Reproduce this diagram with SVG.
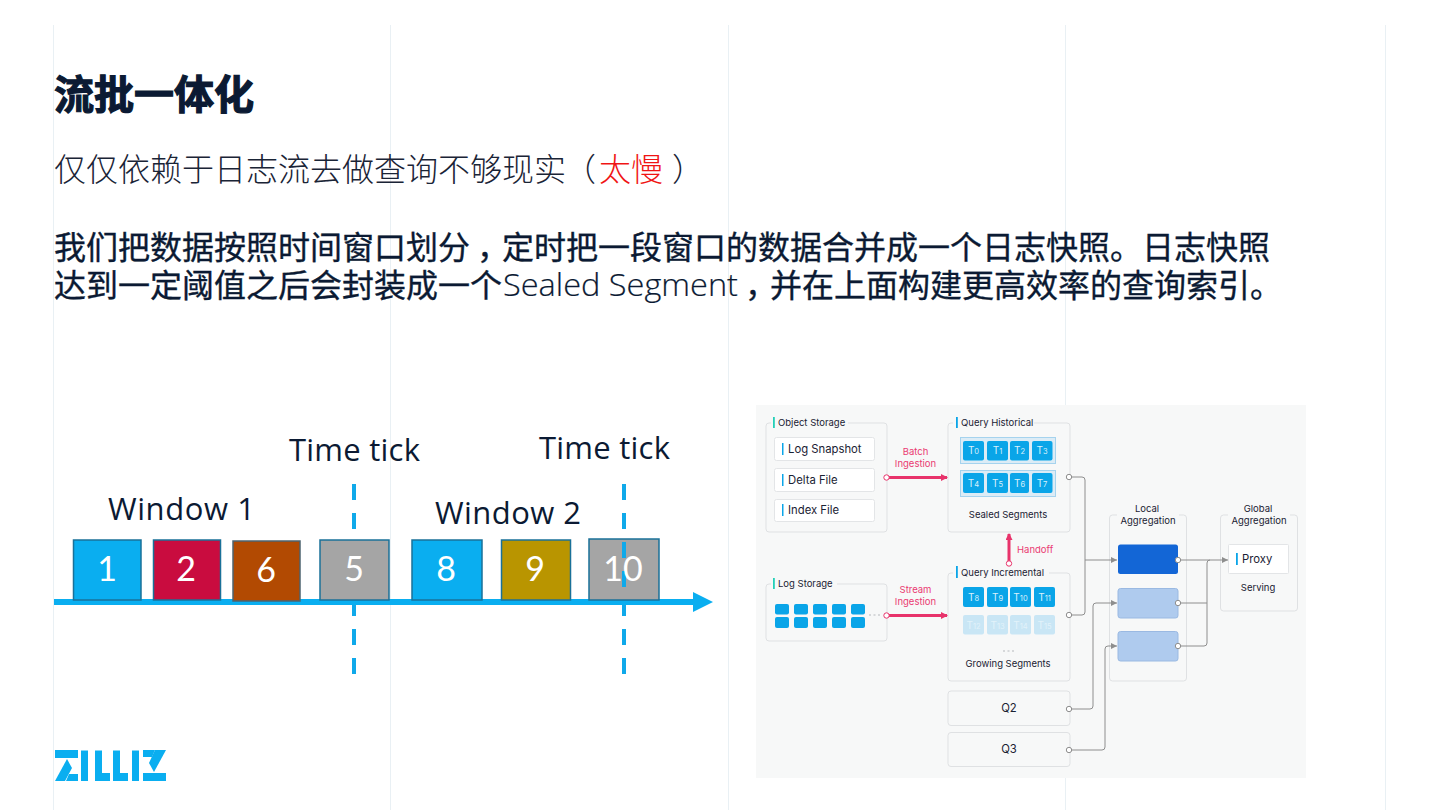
<svg xmlns="http://www.w3.org/2000/svg" width="1440" height="810" viewBox="0 0 1440 810">
<style>
text{font-family:"Noto Sans CJK SC","Noto Sans",sans-serif}
.grid{stroke:#e9f0f4;stroke-width:1}
.h1{font-size:40px;font-weight:700;fill:#0b1a33;stroke:#0b1a33;stroke-width:1.200px}
.sub{font-size:32px;font-weight:300;fill:#1a2436}
.body{font-size:32px;font-weight:400;fill:#0b1a33;stroke:#0b1a33;stroke-width:.35px}
.lat{font-family:"Open Sans","Noto Sans",sans-serif;font-weight:300;font-size:32px;fill:#0b1a33;stroke:#0b1a33;stroke-width:.2px}
.lab{font-family:"Open Sans","Noto Sans",sans-serif;font-size:31px;fill:#0b1a33}
.num{font-family:"Lato","Open Sans",sans-serif;font-size:34px;fill:#fff;text-anchor:middle}
.cell{stroke:#1a7199;stroke-width:1.5}
.dash{stroke:#0fa9ea;stroke-width:4}
.box{fill:#f7f8f8;stroke:#dfe1e3;stroke-width:1}
.wbox{fill:#fff;stroke:#e3e5e7;stroke-width:1}
.bl{fill:#0aa5e8}
.grn{fill:#25d0b8}
.t{font-family:"Inter","Noto Sans",sans-serif;font-size:9.5px;fill:#1a2233}
.tm{text-anchor:middle}
.t2{font-family:"Inter","Noto Sans",sans-serif;font-size:11.3px;fill:#1a2233}
.red{font-family:"Inter","Noto Sans",sans-serif;font-size:9.5px;fill:#ea3a72;text-anchor:middle}
.tile{fill:#0aa5e8}
.fade{fill:#c9e6f5}
.tt{font-family:"Inter","Noto Sans",sans-serif;font-size:10px;fill:#d9f1fc;text-anchor:middle}
.tf{font-family:"Inter","Noto Sans",sans-serif;font-size:10px;fill:#e2f2fa;text-anchor:middle}
.sb{font-size:7.500px}
.strip{fill:#dcecf6;stroke:#a5d3ee;stroke-width:1}
.pk{stroke:#e8336b;stroke-width:3;fill:none}
.gr{stroke:#8e8e8e;stroke-width:1;fill:none}
.dot{fill:#fff;stroke:#8e8e8e;stroke-width:1}
.dotr{fill:#fff;stroke:#e8336b;stroke-width:1}
.lt{fill:#afcbee;stroke:#9ab9e2;stroke-width:1}
</style>
<defs>
<marker id="pa" markerWidth="7" markerHeight="7" refX="6" refY="3.500" orient="auto" markerUnits="userSpaceOnUse"><path d="M0 0L7 3.500L0 7Z" fill="#e8336b"/></marker>
<marker id="ga" markerWidth="6" markerHeight="6" refX="6" refY="3" orient="auto" markerUnits="userSpaceOnUse"><path d="M0 0L6 3L0 6Z" fill="#8e8e8e"/></marker>
</defs>
<rect width="1440" height="810" fill="#fff"/>
<g id="gridlines">
<path class="grid" d="M53.5 25V810M390.5 25V810M728.5 25V810M1065.5 25V810M1385.5 25V810"/>
</g>
<g id="heading">
<text class="h1" x="54" y="109">流批一体化</text>
<text class="sub" y="181"><tspan x="54">仅仅依赖于日志流去做查询不够现实</tspan><tspan x="564">（</tspan><tspan x="599" fill="#f01414">太慢</tspan><tspan x="672">）</tspan></text>
<text class="body" y="259"><tspan x="54">我们把数据按照时间窗口划分</tspan><tspan x="477">，</tspan><tspan x="502">定时把一段窗口的数据合并成一个日志快照。日志快照</tspan></text>
<text class="body" x="54" y="297">达到一定阈值之后会封装成一个</text>
<text class="lat" x="503" y="296" textLength="235" lengthAdjust="spacingAndGlyphs">Sealed Segment</text>
<text class="body" y="297"><tspan x="745">，</tspan><tspan x="770">并在上面构建更高效率的查询索引。</tspan></text>
</g>
<g id="timeline">
<text class="lab" x="289" y="461" textLength="131">Time tick</text>
<text class="lab" x="539" y="459" textLength="131">Time tick</text>
<text class="lab" x="108" y="520" textLength="147">Window 1</text>
<text class="lab" x="435" y="524" textLength="146">Window 2</text>
<path class="dash" d="M354 484V500M354 513V529M354 605V616M354 629V645M354 658V674"/>
<path class="dash" d="M624 484V500M624 513V529M624 605V616M624 629V645M624 658V674"/>
<path d="M54 599H693V592L713 602L693 612V605H54Z" fill="#0aaef0"/>
<g id="cell-1"><rect class="cell" x="73.5" y="540" width="67.500" height="60" fill="#0aaef0"/><text class="num" x="107" y="581">1</text></g>
<g id="cell-2"><rect class="cell" x="153.500" y="540" width="67" height="60" fill="#c90c3f"/><text class="num" x="186" y="581">2</text></g>
<g id="cell-6"><rect x="233" y="541" width="67" height="60" fill="#b24a02" stroke="#4d6470" stroke-width="1.500"/><text class="num" x="266" y="582">6</text></g>
<g id="cell-5"><rect class="cell" x="320" y="540" width="69" height="60" fill="#a5a5a5"/><text class="num" x="354" y="581">5</text></g>
<g id="cell-8"><rect class="cell" x="412" y="540" width="70" height="60" fill="#0aaef0"/><text class="num" x="446" y="581">8</text></g>
<g id="cell-9"><rect class="cell" x="501.500" y="540" width="69" height="60" fill="#b99500"/><text class="num" x="535" y="581">9</text></g>
<g id="cell-10"><rect class="cell" x="589" y="539" width="70" height="61" fill="#a5a5a5"/><path class="dash" d="M624 542V558M624 571V587"/><text class="num" x="623" y="581">10</text></g>
</g>
<g id="logo" fill="#0aaef0">
<path d="M55 750H78V758H55Z"/>
<path d="M67 759L72 768L65 781H55Z"/>
<path d="M69 774H78V781H66Z"/>
<path d="M81 750.500H88V781H81Z"/>
<path d="M95 750.500H102V773H110V781H95Z"/>
<path d="M113 750.500H120V773H128V781H113Z"/>
<path d="M132 750.500H139V781H132Z"/>
<path d="M143 773H166V781H143Z"/>
<path d="M155 750H166L154 772L149 763Z"/>
<path d="M143 750H155L152 757H143Z"/>
</g>
<g id="panel">
<rect x="756" y="405" width="550" height="373" fill="#f7f8f8"/>
</g>
<g id="object-storage">
<rect class="box" x="766" y="423" width="121" height="109" rx="3"/>
<rect x="771" y="418" width="77" height="10" fill="#f7f8f8"/>
<rect class="grn" x="773" y="417" width="1.800" height="11"/>
<text class="t" x="778" y="426">Object Storage</text>
<rect class="wbox" x="774.500" y="437.500" width="100" height="23" rx="2"/><rect class="bl" x="782" y="443" width="1.500" height="12"/><text class="t2" x="788" y="453">Log Snapshot</text>
<rect class="wbox" x="774.500" y="468.500" width="100" height="23" rx="2"/><rect class="bl" x="782" y="474" width="1.500" height="12"/><text class="t2" x="788" y="484">Delta File</text>
<rect class="wbox" x="774.500" y="499.500" width="100" height="22" rx="2"/><rect class="bl" x="782" y="504" width="1.500" height="12"/><text class="t2" x="788" y="514">Index File</text>
</g>
<g id="log-storage">
<rect class="box" x="766" y="584" width="121" height="57" rx="3"/>
<rect x="771" y="579" width="66" height="10" fill="#f7f8f8"/>
<rect class="grn" x="773" y="578" width="1.800" height="11"/>
<text class="t" x="778" y="587">Log Storage</text>
<g class="tile">
<rect x="775" y="604" width="14" height="10.500" rx="2"/><rect x="794" y="604" width="14" height="10.500" rx="2"/><rect x="813" y="604" width="14" height="10.500" rx="2"/><rect x="832" y="604" width="14" height="10.500" rx="2"/><rect x="851" y="604" width="14" height="10.500" rx="2"/>
<rect x="775" y="617" width="14" height="11" rx="2"/><rect x="794" y="617" width="14" height="11" rx="2"/><rect x="813" y="617" width="14" height="11" rx="2"/><rect x="832" y="617" width="14" height="11" rx="2"/><rect x="851" y="617" width="14" height="11" rx="2"/>
</g>
<path d="M869 615H880" stroke="#b5b8bc" stroke-width="1" stroke-dasharray="2 2.500" fill="none"/>
</g>
<g id="query-historical">
<rect class="box" x="948" y="423" width="122" height="109" rx="3"/>
<rect x="953" y="418" width="81" height="10" fill="#f7f8f8"/>
<rect class="bl" x="956" y="417" width="1.800" height="11"/>
<text class="t" x="961" y="426">Query Historical</text>
<rect class="strip" x="960.500" y="437.500" width="95" height="26"/>
<rect class="strip" x="960.500" y="470.500" width="95" height="26"/>
<rect class="tile" x="963" y="441" width="21" height="19.500" rx="2"/><text class="tt" x="973.500" y="454">T<tspan class="sb">0</tspan></text>
<rect class="tile" x="987" y="441" width="21" height="19.500" rx="2"/><text class="tt" x="997.500" y="454">T<tspan class="sb">1</tspan></text>
<rect class="tile" x="1010" y="441" width="19" height="19.500" rx="2"/><text class="tt" x="1019.500" y="454">T<tspan class="sb">2</tspan></text>
<rect class="tile" x="1032" y="441" width="20.500" height="19.500" rx="2"/><text class="tt" x="1042" y="454">T<tspan class="sb">3</tspan></text>
<rect class="tile" x="963" y="473" width="21" height="20" rx="2"/><text class="tt" x="973.500" y="487">T<tspan class="sb">4</tspan></text>
<rect class="tile" x="987" y="473" width="21" height="20" rx="2"/><text class="tt" x="997.500" y="487">T<tspan class="sb">5</tspan></text>
<rect class="tile" x="1010" y="473" width="19" height="20" rx="2"/><text class="tt" x="1019.500" y="487">T<tspan class="sb">6</tspan></text>
<rect class="tile" x="1032" y="473" width="20.500" height="20" rx="2"/><text class="tt" x="1042" y="487">T<tspan class="sb">7</tspan></text>
<text class="t tm" x="1008" y="518">Sealed Segments</text>
</g>
<g id="query-incremental">
<rect class="box" x="948" y="573" width="122" height="108" rx="3"/>
<rect x="953" y="567" width="96" height="10" fill="#f7f8f8"/>
<rect class="bl" x="956" y="566" width="1.800" height="12"/>
<text class="t" x="961" y="576">Query Incremental</text>
<rect class="tile" x="963" y="587" width="21" height="20" rx="2"/><text class="tt" x="973.500" y="601">T<tspan class="sb">8</tspan></text>
<rect class="tile" x="987" y="587" width="21" height="20" rx="2"/><text class="tt" x="997.500" y="601">T<tspan class="sb">9</tspan></text>
<rect class="tile" x="1010" y="587" width="21" height="20" rx="2"/><text class="tt" x="1020.500" y="601">T<tspan class="sb">10</tspan></text>
<rect class="tile" x="1034" y="587" width="21" height="20" rx="2"/><text class="tt" x="1044.500" y="601">T<tspan class="sb">11</tspan></text>
<rect class="fade" x="963" y="615" width="21" height="19.500" rx="2"/><text class="tf" x="973.500" y="629">T<tspan class="sb">12</tspan></text>
<rect class="fade" x="987" y="615" width="21" height="19.500" rx="2"/><text class="tf" x="997.500" y="629">T<tspan class="sb">13</tspan></text>
<rect class="fade" x="1010" y="615" width="21" height="19.500" rx="2"/><text class="tf" x="1020.500" y="629">T<tspan class="sb">14</tspan></text>
<rect class="fade" x="1034" y="615" width="21" height="19.500" rx="2"/><text class="tf" x="1044.500" y="629">T<tspan class="sb">15</tspan></text>
<path d="M1003 651H1015" stroke="#b5b8bc" stroke-width="1" stroke-dasharray="2 2.500" fill="none"/>
<text class="t tm" x="1008" y="667">Growing Segments</text>
</g>
<g id="q2"><rect class="box" x="948" y="691" width="122" height="34.500" rx="3"/><text class="t2 tm" x="1009" y="712">Q2</text></g>
<g id="q3"><rect class="box" x="948" y="732.500" width="122" height="34" rx="3"/><text class="t2 tm" x="1009" y="753">Q3</text></g>
<g id="local-aggregation">
<rect class="box" x="1109.500" y="515" width="77" height="166" rx="3"/>
<rect x="1117" y="510" width="62" height="10" fill="#f7f8f8"/>
<text class="t tm" x="1147" y="512">Local</text>
<text class="t tm" x="1148" y="524">Aggregation</text>
<rect x="1118" y="544.500" width="60" height="29.500" rx="2.500" fill="#1366d6"/>
<rect class="lt" x="1118" y="588.500" width="60" height="29.500" rx="2.500"/>
<rect class="lt" x="1118" y="631.500" width="60" height="29.500" rx="2.500"/>
</g>
<g id="global-aggregation">
<rect class="box" x="1220.500" y="515" width="77" height="96" rx="3"/>
<rect x="1228" y="510" width="62" height="10" fill="#f7f8f8"/>
<text class="t tm" x="1258" y="512">Global</text>
<text class="t tm" x="1259" y="524">Aggregation</text>
<rect class="wbox" x="1228.500" y="544.500" width="60" height="29" rx="1"/>
<rect class="bl" x="1236" y="553" width="1.800" height="12"/>
<text class="t2" x="1242" y="563">Proxy</text>
<text class="t tm" x="1258" y="591">Serving</text>
</g>
<g id="connectors">
<path class="gr" d="M1069 477H1082Q1085 477 1085 480V612Q1085 615 1082 615H1069"/>
<path class="gr" d="M1085 560H1117" marker-end="url(#ga)"/>
<path class="gr" d="M1069 709H1090Q1093 709 1093 706V606Q1093 603 1096 603H1117" marker-end="url(#ga)"/>
<path class="gr" d="M1069 750H1102Q1105 750 1105 747V649Q1105 646 1108 646H1117" marker-end="url(#ga)"/>
<path class="gr" d="M1178 560H1228" marker-end="url(#ga)"/>
<path class="gr" d="M1178 603H1207"/>
<path class="gr" d="M1178 646H1204Q1207 646 1207 643V563Q1207 560 1210 560"/>
<text class="red" x="915.500" y="455">Batch</text><text class="red" x="915.500" y="467">Ingestion</text>
<path class="pk" d="M889 477.500H947" marker-end="url(#pa)"/>
<text class="red" x="915.500" y="593">Stream</text><text class="red" x="915.500" y="605">Ingestion</text>
<path class="pk" d="M889 615.500H947" marker-end="url(#pa)"/>
<text class="red" x="1017" y="553" style="text-anchor:start">Handoff</text>
<path class="pk" d="M1009 561V534" marker-end="url(#pa)"/>
<circle class="dotr" cx="886.500" cy="477.500" r="2.700"/><circle class="dotr" cx="886.500" cy="615.500" r="2.700"/><circle class="dotr" cx="1009" cy="563.500" r="2.700"/>
<circle class="dot" cx="1069" cy="477" r="2.700"/><circle class="dot" cx="1069" cy="615" r="2.700"/><circle class="dot" cx="1069" cy="709" r="2.700"/><circle class="dot" cx="1069" cy="750" r="2.700"/>
<circle class="dot" cx="1178" cy="560" r="2.700"/><circle class="dot" cx="1178" cy="603" r="2.700"/><circle class="dot" cx="1178" cy="646" r="2.700"/>
</g>
</svg>
